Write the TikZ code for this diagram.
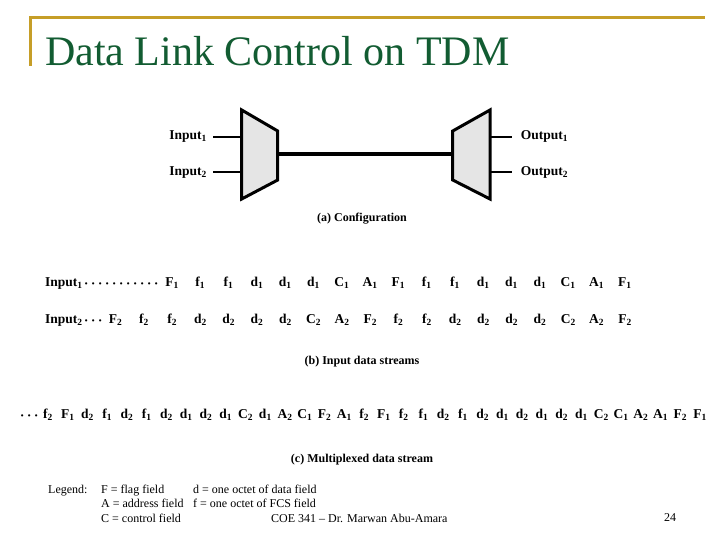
\documentclass[tikz,border=0pt]{standalone}
\usepackage{fontspec}
\setmainfont{Liberation Serif}
\definecolor{titlegreen}{RGB}{18,92,50}
\definecolor{slidegold}{RGB}{198,158,40}
\newcommand\sbs[1]{\textsubscript{#1}}
\newcommand\leaderdots[1]{\foreach \k in {1,...,#1}{\makebox[7pt]{\fontsize{8}{8}\selectfont\textbullet}}}
\begin{document}
\begin{tikzpicture}[x=1pt,y=-1pt,
  fig/.style={font=\fontsize{13.5}{16}\selectfont\bfseries, inner sep=0pt},
  capt/.style={font=\fontsize{12}{14}\selectfont\bfseries, inner sep=0pt, anchor=base},
  leg/.style={font=\fontsize{12}{14}\selectfont, inner sep=0pt, anchor=base west},
  muxbox/.style={draw, line width=3pt, fill=gray!20, line join=miter},
  wire/.style={line width=2pt},
  trunk/.style={line width=4pt}]
\useasboundingbox (0,0) rectangle (720,540);
\fill[white] (0,0) rectangle (720,540);
% title frame
\draw[slidegold, line width=3pt] (30,66) -- (30,18) -- (705,18);
\node[anchor=base west, inner sep=0pt, text=titlegreen, font=\fontsize{42}{48}\selectfont] (title) at (45,66) {Data Link Control on TDM};
% (a) configuration
\coordinate (muxin1) at (241.7,136.7);
\coordinate (muxin2) at (241.7,172.3);
\coordinate (muxout) at (277.7,154.3);
\coordinate (dmxin) at (452.7,154.3);
\coordinate (dmxout1) at (490,136.7);
\coordinate (dmxout2) at (490,172.3);
\node[fig, anchor=east, inner xsep=6pt] (in1) at (213,136.7) {Input\sbs{1}};
\node[fig, anchor=east, inner xsep=6pt] (in2) at (213,172.3) {Input\sbs{2}};
\node[fig, anchor=west, inner xsep=9pt] (out1) at (511.7,136.7) {Output\sbs{1}};
\node[fig, anchor=west, inner xsep=9pt] (out2) at (511.7,172.3) {Output\sbs{2}};
\draw[wire] (in1) -- (muxin1);
\draw[wire] (in2) -- (muxin2);
\draw[wire] (dmxout1) -- (out1);
\draw[wire] (dmxout2) -- (out2);
\draw[trunk] (muxout) -- (dmxin);
\draw[muxbox] (241.7,110) -- (277.7,131) -- (277.7,180) -- (241.7,199) -- cycle;
\draw[muxbox] (490,110) -- (452.7,131) -- (452.7,180) -- (490,199) -- cycle;
\node[capt] (capa) at (362,222) {(a) Configuration};
% (b) input streams
\node[fig, anchor=base west] (ina) at (45,286.5) {Input\sbs{1}\leaderdots{11}};
\foreach [count=\i from 0] \l/\s in {F/1,f/1,f/1,d/1,d/1,d/1,C/1,A/1,F/1,f/1,f/1,d/1,d/1,d/1,C/1,A/1,F/1}
  \node[fig, anchor=base] (ra\i) at (172+\i*28.3,286.5) {\l\sbs{\s}};
\node[fig, anchor=base west] (inb) at (45,323.5) {Input\sbs{2}\leaderdots{3}};
\foreach [count=\i from 0] \l/\s in {F/2,f/2,f/2,d/2,d/2,d/2,d/2,C/2,A/2,F/2,f/2,f/2,d/2,d/2,d/2,d/2,C/2,A/2,F/2}
  \node[fig, anchor=base] (rb\i) at (115.6+\i*28.3,323.5) {\l\sbs{\s}};
\node[capt] (capb) at (362,364) {(b) Input data streams};
% (c) multiplexed stream
\node[fig, anchor=base west] (mdots) at (18.5,418) {\leaderdots{3}};
\foreach [count=\i from 0] \l/\s in {f/2,F/1,d/2,f/1,d/2,f/1,d/2,d/1,d/2,d/1,C/2,d/1,A/2,C/1,F/2,A/1,f/2,F/1,f/2,f/1,d/2,f/1,d/2,d/1,d/2,d/1,d/2,d/1,C/2,C/1,A/2,A/1,F/2,F/1}
  \node[fig, anchor=base] (rc\i) at (48+\i*19.76,418) {\l\sbs{\s}};
\node[capt] (capc) at (362,462) {(c) Multiplexed data stream};
% legend
\node[leg] (legend) at (48,493) {Legend:};
\node[leg] (lf) at (101,493) {F = flag field};
\node[leg] (ld) at (193,493) {d = one octet of data field};
\node[leg] (la) at (101,507.5) {A = address field};
\node[leg] (lff) at (193,507.5) {f = one octet of FCS field};
\node[leg] (lc) at (101,522) {C = control field};
% footer
\node[leg] (foot) at (271,522) {COE 341 – Dr. Marwan Abu-Amara};
\node[leg] (page) at (664,521) {24};
\end{tikzpicture}
\end{document}
